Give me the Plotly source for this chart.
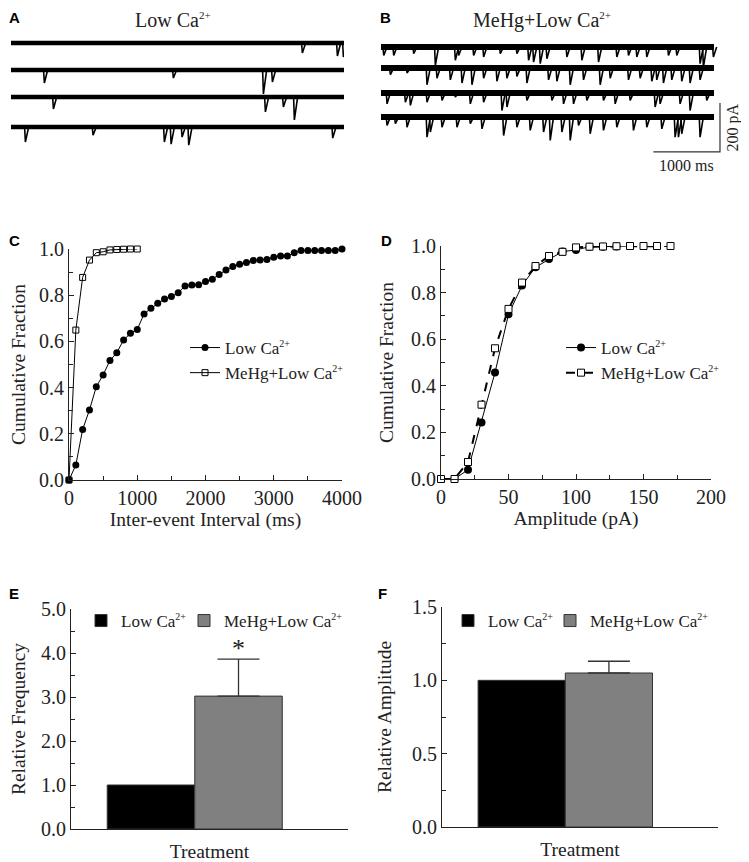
import plotly.graph_objects as go

# ---------------- data ----------------
TRACE_MS = 5000
A_BASE_PA = [0, -110, -220, -343]
A_EVENT_MS = [[4369, 4895, 4985],
              [495, 2432, 3784, 3919],
              [631, 3814, 4084, 4249],
              [210, 1226, 2297, 2398, 2563, 2663, 4825]]
A_EVENT_PA = [[41, 53, 57],
              [53, 33, 98, 49],
              [49, 61, 41, 94],
              [61, 33, 61, 70, 41, 74, 45]]

B_BASE_PA = [0, -86, -188, -286]
B_EVENT_MS = [
    [35, 185, 485, 810, 1110, 1160, 1385, 1535, 1785, 2035, 2210, 2285, 2385, 2485, 2785, 3010,
     3260, 3535, 3710, 3835, 3985, 4310, 4435, 4785, 4835, 4985],
    [135, 385, 685, 835, 1035, 1210, 1360, 1535, 1735, 1885, 2035, 2185, 2510, 2635, 2835, 3035,
     3285, 3435, 3710, 3885, 4060, 4135, 4235, 4360, 4510, 4635, 4785],
    [85, 360, 435, 685, 910, 1110, 1335, 1535, 1810, 1885, 2185, 2560, 2735, 2885, 3085, 3335,
     3510, 3735, 4110, 4185, 4485, 4635, 4885],
    [85, 210, 385, 685, 735, 910, 1135, 1335, 1510, 1835, 2035, 2235, 2435, 2535, 2710, 2835,
     2960, 3135, 3335, 3535, 3785, 3985, 4210, 4410, 4460, 4510, 4785]]
B_EVENT_PA = [
    [34, 34, 27, 75, 54, 34, 34, 41, 27, 27, 54, 61, 68, 48, 41, 54, 61, 41, 34, 41, 41, 34, 34, 68, 82, 41],
    [27, 20, 68, 41, 48, 61, 68, 41, 54, 41, 34, 61, 48, 54, 68, 48, 68, 41, 48, 41, 54, 48, 61, 48, 54, 61, 48],
    [44, 37, 50, 37, 30, 16, 44, 37, 71, 57, 30, 30, 44, 44, 30, 30, 44, 30, 57, 44, 44, 71, 30],
    [34, 27, 41, 82, 61, 41, 41, 27, 48, 75, 41, 54, 61, 95, 61, 95, 34, 68, 54, 41, 54, 41, 48, 82, 82, 68, 82]]
SCALE_MS = 1000
SCALE_PA = 200

# C: inter-event interval cumulative
IEI_MS_LOW = list(range(0, 4001, 100))
IEI_FRAC_LOW = [0, 0.065, 0.219, 0.303, 0.404, 0.455, 0.517, 0.551, 0.606, 0.635, 0.652,
                0.719, 0.743, 0.765, 0.784, 0.794, 0.811, 0.840, 0.844, 0.845, 0.859,
                0.869, 0.890, 0.909, 0.924, 0.934, 0.942, 0.950, 0.952, 0.955, 0.964,
                0.970, 0.970, 0.984, 0.993, 0.993, 0.993, 0.993, 0.993, 0.994, 1.0]
IEI_MS_MEHG = [0, 100, 200, 300, 400, 500, 600, 700, 800, 900, 1000]
IEI_FRAC_MEHG = [0, 0.649, 0.877, 0.952, 0.984, 0.988, 0.996, 0.998, 0.999, 1.0, 1.0]

# D: amplitude cumulative
AMP_PA_LOW = [0, 10, 20, 30, 40, 50, 60, 70, 80, 90, 100, 110, 120, 130, 140]
AMP_FRAC_LOW = [0, 0, 0.04, 0.243, 0.457, 0.707, 0.83, 0.909, 0.944, 0.976, 0.983, 0.997, 0.997, 0.998, 1.0]
AMP_PA_MEHG = [0, 10, 20, 30, 40, 50, 60, 70, 80, 90, 100, 110, 120, 130, 140, 150, 160, 170]
AMP_FRAC_MEHG = [0, 0, 0.073, 0.319, 0.561, 0.73, 0.843, 0.914, 0.957, 0.975, 0.994, 0.997,
                 0.998, 0.999, 1.0, 1.0, 1.0, 1.0]

# E, F: bars
GROUP_BASE = ["Low Ca", "MeHg+Low Ca"]
ION_CHARGE = "2+"
REL_FREQ = [1.0, 3.02]
REL_FREQ_ERR = [0, 0.84]
REL_AMP = [1.0, 1.05]
REL_AMP_ERR = [0, 0.08]
BAR_COLORS = ["#000000", "#808080"]

# ---------------- layout helpers ----------------
OFF = 8                      # page body margin of the browser
W, H = 749 - OFF, 862 - OFF
SERIF = "Liberation Serif"
SANS = "Liberation Sans"
INK = "#222222"


def label(i, sup_px=10):
    return f"{GROUP_BASE[i]}<sup><span style='font-size:{sup_px}px'>{ION_CHARGE}</span></sup>"


def px(x):
    return (x - OFF) / W


def py(y):
    return 1 - (y - OFF) / H


def xd(a, b):
    return [px(a), px(b)]


def yd(top, bottom):
    return [py(bottom), py(top)]


fig = go.Figure()

# ---- A and B traces ----
def add_sweeps(bases, ev_ms, ev_pa, xa, ya, band):
    for b, ts, amps in zip(bases, ev_ms, ev_pa):
        fig.add_trace(go.Scatter(x=[0, TRACE_MS], y=[b, b], mode="lines",
                                 line=dict(color="black", width=band),
                                 xaxis=xa, yaxis=ya, showlegend=False, hoverinfo="skip"))
        xs, ys = [], []
        for t, a in zip(ts, amps):
            xs += [t - 6, t + 6, t + 55, None]
            ys += [b, b - a, b, None]
        fig.add_trace(go.Scatter(x=xs, y=ys, mode="lines",
                                 line=dict(color="black", width=1.6),
                                 xaxis=xa, yaxis=ya, showlegend=False, hoverinfo="skip"))


add_sweeps(A_BASE_PA, A_EVENT_MS, A_EVENT_PA, "x5", "y5", 4.5)
add_sweeps(B_BASE_PA, B_EVENT_MS, B_EVENT_PA, "x6", "y6", 6)

# scale bar in B
sb_x0 = 4090
sb_y0 = -428
fig.add_trace(go.Scatter(x=[sb_x0, sb_x0 + SCALE_MS, sb_x0 + SCALE_MS],
                         y=[sb_y0, sb_y0, sb_y0 + SCALE_PA], mode="lines",
                         line=dict(color="#333333", width=1.2),
                         xaxis="x6", yaxis="y6", showlegend=False, hoverinfo="skip"))

# ---- C ----
fig.add_trace(go.Scatter(x=IEI_MS_LOW, y=IEI_FRAC_LOW, mode="lines+markers", name=label(0),
                         line=dict(color="black", width=1),
                         marker=dict(symbol="circle", size=7, color="black"),
                         xaxis="x", yaxis="y", legend="legend", cliponaxis=False))
fig.add_trace(go.Scatter(x=IEI_MS_MEHG, y=IEI_FRAC_MEHG, mode="lines+markers", name=label(1),
                         line=dict(color="black", width=1),
                         marker=dict(symbol="square-open", size=6, color="black", line=dict(width=1)),
                         xaxis="x", yaxis="y", legend="legend", cliponaxis=False))

# ---- D ----
fig.add_trace(go.Scatter(x=AMP_PA_LOW, y=AMP_FRAC_LOW, mode="lines+markers", name=label(0),
                         line=dict(color="black", width=1),
                         marker=dict(symbol="circle", size=8, color="black"),
                         xaxis="x2", yaxis="y2", legend="legend2", cliponaxis=False))
fig.add_trace(go.Scatter(x=AMP_PA_MEHG, y=AMP_FRAC_MEHG, mode="lines+markers", name=label(1),
                         line=dict(color="black", width=2, dash="dash"),
                         marker=dict(symbol="square", size=7, color="white", line=dict(width=1, color="black")),
                         xaxis="x2", yaxis="y2", legend="legend2", cliponaxis=False))

# ---- E, F bars ----
def add_bars(vals, errs, xa, ya, legends):
    for i, (v, e) in enumerate(zip(vals, errs)):
        fig.add_trace(go.Bar(x=[i], y=[v], width=1, name=label(i),
                             marker=dict(color=BAR_COLORS[i], line=dict(color="#333333", width=1)),
                             error_y=dict(type="data", symmetric=False, array=[e], arrayminus=[0],
                                          visible=e > 0, color="#333333", thickness=1.3, width=21),
                             xaxis=xa, yaxis=ya, legend=legends[i]))


add_bars(REL_FREQ, REL_FREQ_ERR, "x3", "y3", ["legend3", "legend4"])
add_bars(REL_AMP, REL_AMP_ERR, "x4", "y4", ["legend5", "legend6"])

tickfont = dict(family=SERIF, size=20, color=INK)
titlefont = dict(family=SERIF, size=19.5, color=INK)


def axis(domain, rng, dtick=None, minor=None, fmt=None, title=None, standoff=None, show=True, **kw):
    d = dict(domain=domain, range=rng, showgrid=False, zeroline=False, automargin=False)
    if not show:
        d.update(visible=False)
        return d
    d.update(showline=True, linecolor=INK, linewidth=1, ticks="inside", ticklen=5,
             tickcolor=INK, tickfont=tickfont, dtick=dtick, tick0=0)
    if minor:
        d["minor"] = dict(ticks="inside", ticklen=4, dtick=minor, tickcolor=INK, showgrid=False)
    if fmt:
        d["tickformat"] = fmt
    if title:
        d["title"] = dict(text=title, font=titlefont)
        if standoff is not None:
            d["title"]["standoff"] = standoff
    d.update(kw)
    return d


bar_range = [-0.914, 2.251]
legfont = dict(family=SERIF, size=17, color=INK)


def leg(x, y):
    return dict(x=px(x), y=py(y), xanchor="left", yanchor="top", font=legfont,
                bgcolor="rgba(0,0,0,0)", tracegroupgap=2)


fig.update_layout(
    width=W, height=H, margin=dict(l=0, r=0, t=0, b=0, autoexpand=False),
    paper_bgcolor="white", plot_bgcolor="white", barmode="overlay",
    xaxis=axis(xd(69, 342), [0, 4000], 1000, 500, title="Inter-event Interval (ms)",
               standoff=2, anchor="y"),
    yaxis=axis(yd(249, 480), [0, 1], 0.2, 0.1, ".1f", "Cumulative Fraction", standoff=11, anchor="x"),
    xaxis2=axis(xd(441, 711), [0, 200], 50, 25, title="Amplitude (pA)", standoff=2, anchor="y2"),
    yaxis2=axis(yd(246, 479), [0, 1], 0.2, 0.1, ".1f", "Cumulative Fraction", standoff=12, anchor="x2"),
    xaxis3=axis(xd(71, 348), bar_range, title="Treatment", anchor="y3", showticklabels=False,
                ticks=""),
    yaxis3=axis(yd(609, 829), [0, 5], 1, 0.5, ".1f", "Relative Frequency", anchor="x3"),
    xaxis4=axis(xd(442, 718), bar_range, title="Treatment", anchor="y4", showticklabels=False,
                ticks=""),
    yaxis4=axis(yd(607, 827), [0, 1.5], 0.5, 0.25, ".1f", "Relative Amplitude", anchor="x4"),
    xaxis5=axis(xd(11, 344), [0, TRACE_MS], show=False, anchor="y5"),
    yaxis5=axis(yd(20, 160), [-477.4, 93.9], show=False, anchor="x5"),
    xaxis6=axis(xd(381, 722), [0, TRACE_MS * 341 / 333], show=False, anchor="y6"),
    yaxis6=axis(yd(20, 160), [-461, 110.2], show=False, anchor="x6"),
    legend=leg(185, 330),
    legend2=leg(561, 330),
    legend3=leg(81, 603),
    legend4=leg(184, 603),
    legend5=leg(448, 603),
    legend6=leg(550, 603),
)

ann = []
for txt, x, y in [("A", 14, 17), ("B", 385, 17), ("C", 14, 240), ("D", 386, 240),
                  ("E", 14, 593), ("F", 382, 593)]:
    ann.append(dict(text=txt, x=px(x), y=py(y), xref="paper", yref="paper",
                    showarrow=False, xanchor="center", yanchor="middle",
                    font=dict(family=SANS, size=15, color="black", weight="bold")))
ann.append(dict(text=label(0, 11), x=px(173), y=py(20), xref="paper", yref="paper",
                xanchor="center", yanchor="middle",
                showarrow=False, font=dict(family=SERIF, size=20, color=INK)))
ann.append(dict(text=label(1, 11), x=px(542), y=py(20), xref="paper", yref="paper",
                xanchor="center", yanchor="middle",
                showarrow=False, font=dict(family=SERIF, size=20, color=INK)))
ann.append(dict(text=f"{SCALE_PA} pA", x=sb_x0 + SCALE_MS, y=sb_y0 + SCALE_PA / 2, xref="x6", yref="y6",
                xshift=13, showarrow=False, textangle=-90, xanchor="center", yanchor="middle",
                font=dict(family=SERIF, size=16, color=INK)))
ann.append(dict(text=f"{SCALE_MS} ms", x=sb_x0 + SCALE_MS / 2, y=sb_y0, xref="x6", yref="y6",
                yshift=-14, showarrow=False, xanchor="center", yanchor="middle",
                font=dict(family=SERIF, size=16, color=INK)))
ann.append(dict(text="*", x=1, y=REL_FREQ[1] + REL_FREQ_ERR[1], xref="x3", yref="y3",
                yshift=11, showarrow=False, xanchor="center", yanchor="middle",
                font=dict(family=SERIF, size=26, color=INK)))
fig.update_layout(annotations=ann)

fig.write_html("out.html")
